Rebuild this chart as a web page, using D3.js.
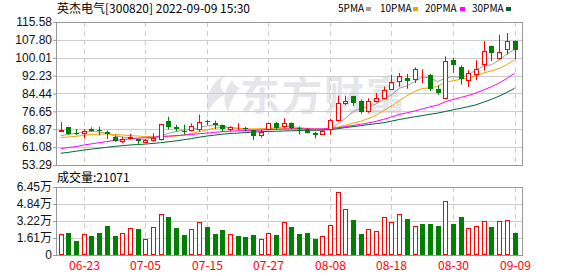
<!DOCTYPE html>
<html>
<head>
<meta charset="utf-8">
<script src="https://cdn.jsdelivr.net/npm/d3@7"></script>
<style>
body{margin:0;background:#fff;}
text{font-family:"Noto Sans CJK SC",sans-serif;font-size:12px;}
</style>
</head>
<body>
<script>
//daily bars, 2022-06-20 .. 2022-09-09 (60 trading days)
var openP  = [67.9,69.7,67.4,67.2,69.0,68.6,67.8,65.6,63.9,65.0, 64.5,63.3,64.2,64.8,72.6,70.0,68.3,68.5,68.8,72.4,
              71.6,70.6,69.0,69.6,69.2,68.4,66.2,68.9,71.6,70.1, 71.5,69.3,68.8,67.2,66.8,68.9,72.9,80.5,83.3,81.2,
              76.6,81.3,82.3,86.6,89.7,91.3,90.7,94.6,92.5,86.3, 82.5,99.0,95.8,90.3,92.8,97.3,105.1,100.1,103.7,107.3];
var closeP = [68.7,66.7,66.8,68.1,68.1,68.3,66.8,63.7,64.8,65.6, 63.6,64.0,64.9,71.1,69.9,68.8,67.5,70.3,71.9,72.1,
              70.8,69.0,69.7,69.6,68.9,65.9,67.8,71.5,69.6,71.5, 69.3,68.9,67.2,66.4,68.2,72.9,80.2,81.2,80.3,76.2,
              81.2,82.4,85.9,89.3,92.1,89.7,95.0,94.6,86.3,84.8, 98.5,97.0,90.7,93.5,95.3,102.8,101.9,102.3,107.2,103.2];
var highP  = [72.0,69.9,68.9,68.9,69.7,70.0,68.3,66.3,65.6,66.8, 64.8,64.6,67.1,71.2,74.3,70.8,70.9,71.4,75.2,73.0,
              72.6,70.9,70.2,71.5,69.9,68.7,68.6,71.6,72.0,73.6, 71.8,70.0,69.5,67.8,68.8,73.5,83.5,83.5,83.4,81.8,
              82.3,84.6,87.4,92.6,93.3,93.0,95.8,94.9,93.0,88.0, 100.6,100.0,96.7,94.6,98.9,107.3,105.3,110.0,110.8,107.5];
var lowP   = [67.8,66.4,66.3,64.9,67.7,66.2,64.6,63.4,62.8,64.3, 62.0,62.9,63.5,63.9,68.7,67.9,66.5,67.9,67.8,70.7,
              68.9,67.7,67.8,68.5,67.8,64.2,65.2,68.5,68.9,69.3, 68.8,66.6,67.0,64.9,66.5,66.5,72.2,79.4,79.1,75.6,
              76.0,80.5,82.0,85.9,87.4,86.5,88.9,88.9,85.5,83.9, 82.0,93.4,88.3,87.3,90.2,94.4,98.6,99.2,101.4,99.4];
//volume, unit 万
var volume = [1.98,2.11,1.35,1.98,1.79,2.11,2.74,1.79,2.04,2.55, 2.45,1.51,2.64,3.87,3.58,2.55,1.89,2.45,3.11,2.64,
              1.98,2.36,1.98,1.79,1.70,1.89,1.51,2.08,1.89,3.11, 2.64,1.98,2.08,1.51,1.79,2.83,6.00,4.40,3.30,1.98,
              2.45,2.26,3.58,3.11,3.93,3.40,2.74,2.92,2.92,2.74, 5.16,2.92,3.58,2.52,2.74,3.18,2.64,3.18,3.36,2.1071];

//moving averages as drawn
var ma5  = [66.1,66.6,67.1,67.5,68.0,67.6,67.2,65.9,65.5,65.1, 64.6,64.5,64.9,65.8,67.1,67.9,68.5,68.8,69.6,70.3,
            70.7,70.2,69.6,69.3,68.9,68.5,68.7,69.0,69.5,70.0, 70.0,69.6,69.2,68.8,68.6,68.8,71.0,73.6,76.5,78.0,
            78.7,79.9,81.8,83.8,86.7,87.7,89.6,91.5,91.4,89.6, 91.1,91.8,91.4,92.5,94.7,96.4,96.9,99.0,101.6,103.6];
var ma10 = [65.3,65.5,65.8,66.2,66.6,66.7,66.8,66.6,66.4,66.1, 65.9,65.7,65.6,65.6,65.7,65.9,66.4,67.0,67.8,68.6,
            69.4,69.6,69.5,69.3,69.1,69.0,69.1,69.2,69.3,69.3, 69.2,69.1,69.1,69.0,69.0,69.1,69.8,70.6,71.5,72.3,
            73.5,75.0,77.0,79.0,81.2,83.4,85.3,86.6,86.9,87.5, 89.3,90.0,90.6,91.2,92.2,93.4,94.3,95.3,97.0,99.1];
var ma20 = [60.4,60.9,61.3,62.0,62.5,63.0,63.5,64.0,64.3,64.7, 65.0,65.2,65.4,65.7,65.9,66.1,66.3,66.6,66.9,67.2,
            67.5,67.8,68.0,68.2,68.3,68.4,68.5,68.7,68.8,68.9, 69.0,69.0,69.0,69.0,69.0,69.2,69.5,70.0,70.5,71.0,
            71.6,72.3,73.2,74.2,75.3,76.0,76.8,77.7,78.6,79.4, 80.8,81.8,82.7,83.6,84.7,86.0,87.4,89.0,91.0,93.2];
var ma30 = [58.4,58.8,59.3,59.8,60.2,60.6,61.0,61.4,61.7,62.0, 62.2,62.4,62.7,63.0,63.4,63.8,64.3,64.8,65.4,65.9,
            66.3,66.7,67.0,67.2,67.4,67.6,67.8,67.9,68.0,68.1, 68.2,68.3,68.4,68.4,68.5,68.7,69.1,69.6,70.0,70.4,
            70.9,71.3,71.7,72.4,73.1,73.7,74.3,74.8,75.4,75.9, 76.6,77.3,78.0,78.7,79.5,80.7,81.9,83.3,84.9,86.7];

var priceTicks = [53.29,61.08,68.87,76.65,84.44,92.23,100.01,107.80,115.58];
var volTicks = [0,1.61,3.22,4.84,6.45];
var volTickLabels = ["0","1.61万","3.22万","4.84万","6.45万"];
var dateTickIndex = [3,11,19,27,35,43,51,59];
var dateTickLabels = ["06-23","07-05","07-15","07-27","08-08","08-18","08-30","09-09"];
var maNames = ["5PMA","10PMA","20PMA","30PMA"];

(function(){
    var width = 578, height = 276;
    var left = 56, right = 522,
        pTop = 22, pBottom = 165,
        vTop = 187, vBottom = 255;
    var red = "#ff0000", green = "#008000";
    var maColors = ["#a0a0a0","#f5a300","#ff00ff","#006633"];

    var svg = d3.select("body").append("svg")
        .attr("width", width)
        .attr("height", height);

    var x = d3.scaleLinear().domain([0, openP.length - 1]).range([60.7, 514.5]);
    var yP = d3.scaleLinear().domain([53.29, 115.58]).range([pBottom, pTop]);
    var yV = d3.scaleLinear().domain([0, 6.45]).range([vBottom, vTop]);

    function px(i){ return Math.round(x(i)) + 0.5; }

    //watermark
    var wm = svg.append("g").attr("fill", "#e6e6ea");
    wm.append("path")
        .attr("d", "M226,74 C212,82 204,96 208,112 C212,104 218,98 226,94 C218,88 220,80 226,74 Z M232,80 C224,90 222,102 228,112 C230,102 234,94 240,88 C236,86 233,84 232,80 Z");
    wm.append("text")
        .attr("x", 240)
        .attr("y", 110)
        .style("font-size", "40px")
        .style("font-weight", "bold")
        .style("letter-spacing", "2px")
        .text("东方财富");

    //grid
    svg.append("g").selectAll("line")
        .data(priceTicks.slice(1, -1))
        .enter().append("line")
        .attr("x1", left).attr("x2", right)
        .attr("y1", function(d){ return Math.round(yP(d)) + 0.5; })
        .attr("y2", function(d){ return Math.round(yP(d)) + 0.5; })
        .attr("stroke", "#cccccc");
    svg.append("g").selectAll("line")
        .data(volTicks.slice(1, -1))
        .enter().append("line")
        .attr("x1", left).attr("x2", right)
        .attr("y1", function(d){ return Math.round(yV(d)) + 0.5; })
        .attr("y2", function(d){ return Math.round(yV(d)) + 0.5; })
        .attr("stroke", "#cccccc");
    [[pTop, pBottom], [vTop, vBottom]].forEach(function(r){
        svg.append("g").selectAll("line")
            .data(dateTickIndex)
            .enter().append("line")
            .attr("x1", px).attr("x2", px)
            .attr("y1", r[0]).attr("y2", r[1])
            .attr("stroke", "#cccccc")
            .attr("stroke-dasharray", "5,4");
    });

    //left axes
    var pAxis = svg.append("g")
        .attr("transform", "translate(" + left + ",0)")
        .call(d3.axisLeft(yP).tickValues(priceTicks).tickFormat(d3.format(".2f")).tickSize(3).tickPadding(1));
    var vAxis = svg.append("g")
        .attr("transform", "translate(" + left + ",0)")
        .call(d3.axisLeft(yV).tickValues(volTicks).tickFormat(function(d, i){ return volTickLabels[i]; }).tickSize(3).tickPadding(1));
    [pAxis, vAxis].forEach(function(a){
        a.select(".domain").remove();
        a.selectAll("line").attr("stroke", "#999999");
        a.selectAll("text")
            .style("font-family", "'Liberation Sans', Arial, sans-serif")
            .style("font-size", "12px")
            .attr("fill", "#111");
    });
    vAxis.selectAll("text").style("font-family", "'Liberation Sans', 'Noto Sans CJK SC', sans-serif");

    //frames
    [[pTop, pBottom], [vTop, vBottom]].forEach(function(r){
        svg.append("rect")
            .attr("x", left + 0.5).attr("y", r[0] + 0.5)
            .attr("width", right - left).attr("height", r[1] - r[0])
            .attr("fill", "none")
            .attr("stroke", "#999999");
    });

    //moving averages
    [ma5, ma10, ma20, ma30].forEach(function(s, k){
        svg.append("path")
            .datum(s)
            .attr("fill", "none")
            .attr("stroke", maColors[k])
            .attr("stroke-width", 1)
            .attr("d", d3.line()
                .x(function(d, i){ return x(i); })
                .y(function(d){ return yP(d); }));
    });

    //candles
    var candles = svg.append("g").selectAll("g")
        .data(openP.map(function(o, i){
            return {i: i, o: o, c: closeP[i], h: highP[i], l: lowP[i]};
        }))
        .enter().append("g");
    candles.append("line")
        .attr("x1", function(d){ return px(d.i); })
        .attr("x2", function(d){ return px(d.i); })
        .attr("y1", function(d){ return yP(d.h); })
        .attr("y2", function(d){ return yP(d.l); })
        .attr("stroke", function(d){ return d.c >= d.o ? red : green; });
    candles.append("rect")
        .attr("x", function(d){ return d.c >= d.o ? px(d.i) - 2 : px(d.i) - 2.5; })
        .attr("width", function(d){ return d.c >= d.o ? 4 : 5; })
        .attr("y", function(d){
            var t = Math.round(yP(Math.max(d.o, d.c)));
            return d.c >= d.o ? t + 0.5 : t;
        })
        .attr("height", function(d){
            var h = Math.round(yP(Math.min(d.o, d.c))) - Math.round(yP(Math.max(d.o, d.c)));
            return d.c >= d.o ? h : Math.max(1, h);
        })
        .attr("fill", function(d){ return d.c >= d.o ? "#fff" : green; })
        .attr("stroke", function(d){ return d.c >= d.o ? red : "none"; });

    //volume bars
    svg.append("g").selectAll("rect")
        .data(volume)
        .enter().append("rect")
        .each(function(v, i){
            var up = closeP[i] > openP[i] || (closeP[i] == openP[i] && (i == 0 || closeP[i] >= closeP[i - 1]));
            var top = Math.round(yV(v));
            var sel = d3.select(this);
            if (up){
                sel.attr("x", px(i) - 2).attr("y", top + 0.5)
                    .attr("width", 4).attr("height", vBottom - top - 1)
                    .attr("fill", "#fff").attr("stroke", red);
            } else {
                sel.attr("x", px(i) - 2.5).attr("y", top)
                    .attr("width", 5).attr("height", vBottom - top)
                    .attr("fill", green);
            }
        });

    //date labels
    svg.append("g").selectAll("text")
        .data(dateTickIndex)
        .enter().append("text")
        .attr("x", px)
        .attr("y", 270)
        .attr("text-anchor", "middle")
        .attr("fill", red)
        .text(function(d, i){ return dateTickLabels[i]; });

    //title and legend
    svg.append("text")
        .attr("x", 57).attr("y", 13)
        .attr("fill", "#000")
        .text("英杰电气[300820] 2022-09-09 15:30");
    svg.append("text")
        .attr("x", 57).attr("y", 182)
        .attr("fill", "#000")
        .text("成交量:" + Math.round(volume[volume.length - 1] * 10000));

    var legX = [338, 380, 425, 472],
        legBox = [366, 413, 460, 506];
    var leg = svg.append("g").selectAll("g")
        .data(maNames)
        .enter().append("g");
    leg.append("text")
        .attr("x", function(d, i){ return legX[i]; })
        .attr("y", 12)
        .attr("fill", "#000")
        .style("font-size", "10px")
        .text(function(d){ return d; });
    leg.append("rect")
        .attr("x", function(d, i){ return legBox[i]; })
        .attr("y", 7)
        .attr("width", 5).attr("height", 4)
        .attr("fill", function(d, i){ return maColors[i]; });
})();
</script>
</body>
</html>
